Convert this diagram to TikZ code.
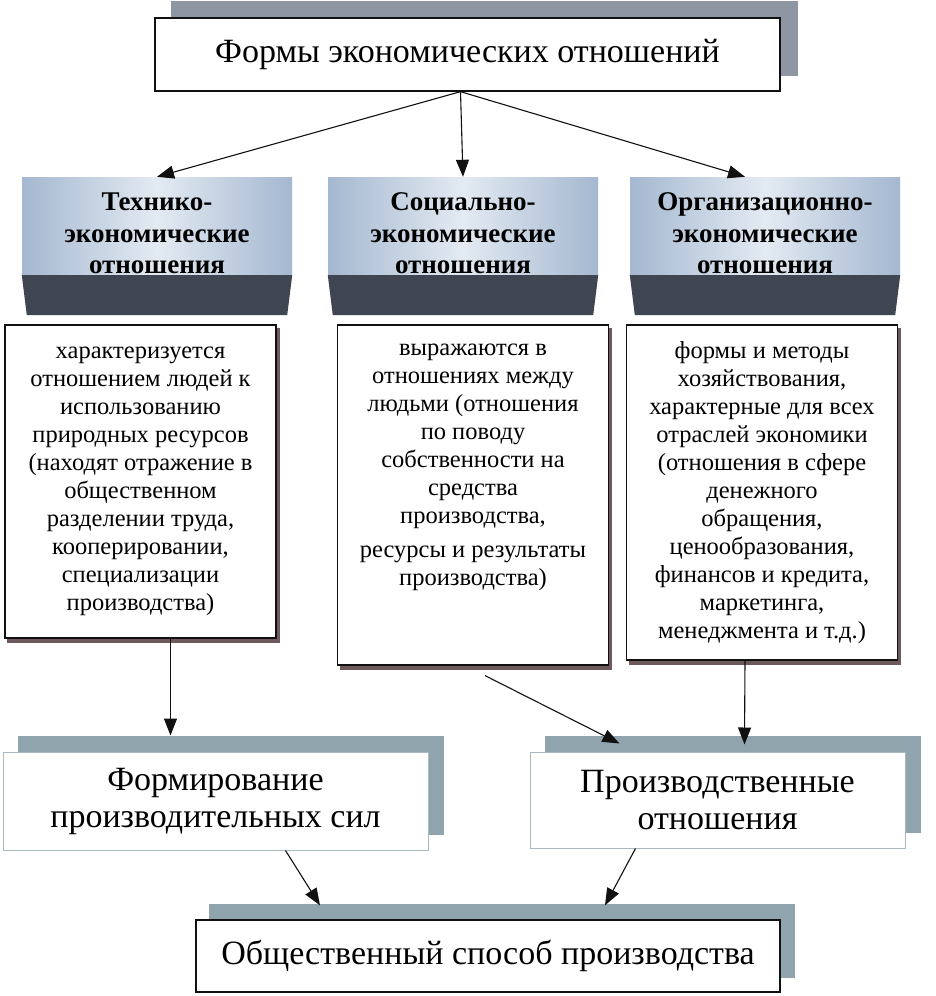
\documentclass[tikz,border=0pt]{standalone}
\usepackage{fontspec}
\setmainfont{Liberation Serif}
\usepackage{tikz}
\usetikzlibrary{arrows.meta,positioning,calc,backgrounds}
\definecolor{ink}{HTML}{111111}
\definecolor{slab}{HTML}{8E95A3}
\definecolor{slabteal}{HTML}{8FA4AC}
\definecolor{hdrblue}{HTML}{A5B8D0}
\definecolor{hdrpale}{HTML}{E3EAF2}
\definecolor{band}{HTML}{3F4551}
\definecolor{rim}{HTML}{6E5A5C}
\definecolor{softrim}{HTML}{A9B9BF}
\newcommand{\bigtxt}{\fontsize{34}{37}\selectfont}
\newcommand{\desctxt}{\fontsize{24.5}{28}\selectfont}
\newcommand{\hdrlines}[1]{\raisebox{-16pt}[0pt][0pt]{\begin{tabular}{@{}c@{}}#1\end{tabular}}}

\begin{document}
\begin{tikzpicture}[x=1pt,y=-1pt,
  titlebox/.style={draw=ink,line width=1.3pt,fill=white,align=center,
              font=\bigtxt,inner sep=0pt},
  headbox/.style={left color=hdrblue,right color=hdrblue,middle color=hdrpale,
              inner sep=0pt,minimum width=270pt,minimum height=98pt,
              font=\bfseries\fontsize{27}{31.5}\selectfont},
  descbox/.style={draw=ink,line width=1.2pt,fill=white,align=center,
              inner sep=0pt,minimum width=271pt,font=\desctxt},
  formbox/.style={draw=softrim,line width=1pt,fill=white,align=center,
              inner sep=0pt,font=\bigtxt},
  arr/.style={draw=ink,line width=1.1pt,-{Triangle[length=17pt,width=13pt]}},
]
  \useasboundingbox (0,0) rectangle (936,996);

  \node[titlebox,minimum width=625pt,minimum height=73pt] (forms) at (467.5,54.5)
    {Формы экономических отношений};

  \node[headbox] (tech) at (157,226) {\hdrlines{Технико-\\экономические\\отношения}};
  \node[headbox] (soc) at (463,226) {\hdrlines{Социально-\\экономические\\отношения}};
  \node[headbox] (org) at (765,226) {\hdrlines{Организационно-\\экономические\\отношения}};
  \foreach \h in {tech,soc,org}
    \fill[band] (\h.south west) -- (\h.south east) -- ([xshift=-5pt,yshift=-40pt]\h.south east)
      -- ([xshift=5pt,yshift=-40pt]\h.south west) -- cycle;

  \node[descbox,minimum height=313pt] (descL) at (140.5,481.5)
    {характеризуется\\отношением людей к\\использованию\\природных ресурсов\\(находят отражение в\\
     общественном\\разделении труда,\\кооперировании,\\специализации\\производства)};
  \node[descbox,minimum height=340pt] (descM) at (473,495)
    {выражаются в\\отношениях между\\людьми (отношения\\по поводу\\собственности на\\средства\\
     производства,\\[6pt]ресурсы и результаты\\производства)\rule[-60pt]{0pt}{60pt}};
  \node[descbox,minimum height=335pt] (descR) at (762,492.5)
    {формы и методы\\хозяйствования,\\характерные для всех\\отраслей экономики\\(отношения в сфере\\
     денежного\\обращения,\\ценообразования,\\финансов и кредита,\\маркетинга,\\менеджмента и т.д.)};

  \node[formbox,minimum width=425pt,minimum height=98pt] (formL) at (215.5,801)
    {Формирование\\производительных сил};
  \node[formbox,minimum width=375pt,minimum height=96pt] (formR) at (717.5,800)
    {Производственные\\отношения};
  \node[titlebox,minimum width=584pt,minimum height=72pt] (mode) at (488,956)
    {Общественный способ производства};

  \begin{scope}[on background layer]
    \fill[white] (0,0) rectangle (936,996);
    \fill[slab] ([xshift=17pt,yshift=16pt]forms.south west) rectangle ([xshift=17pt,yshift=16pt]forms.north east);
    \fill[slabteal] ([xshift=15pt,yshift=16pt]formL.south west) rectangle ([xshift=15pt,yshift=16pt]formL.north east);
    \fill[slabteal] ([xshift=15pt,yshift=16pt]formR.south west) rectangle ([xshift=15pt,yshift=16pt]formR.north east);
    \fill[slabteal] ([xshift=14pt,yshift=15pt]mode.south west) rectangle ([xshift=14pt,yshift=15pt]mode.north east);
    \fill[rim] ([xshift=3pt,yshift=-4pt]descL.south west) rectangle ([xshift=3pt,yshift=-4pt]descL.north east);
    \fill[rim] ([xshift=3pt,yshift=-4pt]descM.south west) rectangle ([xshift=3pt,yshift=-4pt]descM.north east);
    \fill[rim] ([xshift=3pt,yshift=-4pt]descR.south west) rectangle ([xshift=3pt,yshift=-4pt]descR.north east);
  \end{scope}

  \coordinate (gap) at ([xshift=12pt,yshift=-10pt]descM.south);

  \draw[arr] ([xshift=-7pt]forms.south) -- (tech.north);
  \draw[arr] ([xshift=-7pt]forms.south) -- (soc.north);
  \draw[arr] ([xshift=-7pt]forms.south) -- ([xshift=-20pt]org.north);
  \draw[arr] ([xshift=30pt]descL.south) -- ([xshift=-45pt,yshift=16pt]formL.north);
  \draw[arr] (gap) -- ([xshift=-98pt,yshift=8pt]formR.north);
  \draw[arr] ([xshift=-17pt]descR.south) -- ([xshift=27pt,yshift=7pt]formR.north);
  \draw[arr] ([xshift=70pt]formL.south) -- ([xshift=-168pt,yshift=14pt]mode.north);
  \draw[arr] ([xshift=-82pt]formR.south) -- ([xshift=117pt,yshift=14pt]mode.north);
\end{tikzpicture}
\end{document}
